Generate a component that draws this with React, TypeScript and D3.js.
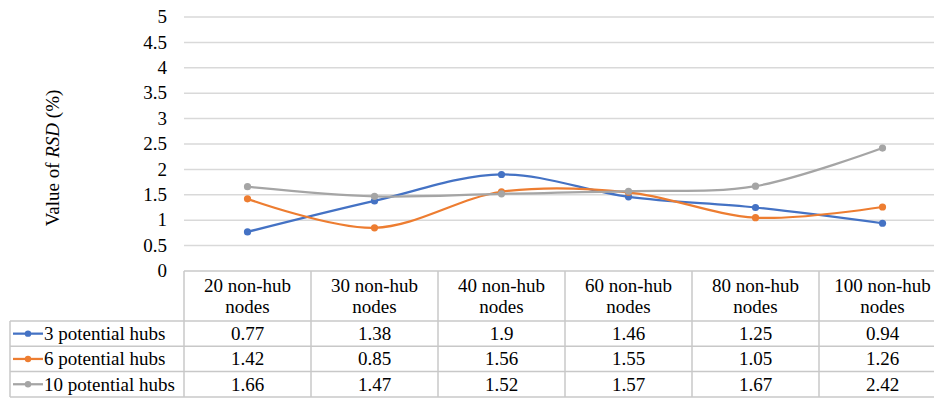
import React, { useEffect, useRef } from "react";
import * as d3 from "d3";

const categories = ["20 non-hub nodes", "30 non-hub nodes", "40 non-hub nodes", "60 non-hub nodes", "80 non-hub nodes", "100 non-hub nodes"];
const seriesNames = ["3 potential hubs", "6 potential hubs", "10 potential hubs"];
const hubs3 = [0.77, 1.38, 1.9, 1.46, 1.25, 0.94];
const hubs6 = [1.42, 0.85, 1.56, 1.55, 1.05, 1.26];
const hubs10 = [1.66, 1.47, 1.52, 1.57, 1.67, 2.42];
const yTicks = [0, 0.5, 1, 1.5, 2, 2.5, 3, 3.5, 4, 4.5, 5];
const colors = ["#4472C4", "#ED7D31", "#A5A5A5"];

export default function App() {
  const ref = useRef<SVGSVGElement | null>(null);
  useEffect(() => {
    const W = 934, H = 399;
    const plotLeft = 184, catW = 127;
    const plotRight = plotLeft + catW * categories.length;
    const x = d3.scaleBand<string>().domain(categories).range([plotLeft, plotRight]);
    const y = d3.scaleLinear().domain([0, 5]).range([271, 17]);
    const series = [hubs3, hubs6, hubs10];
    const cx = (i: number) => (x(categories[i]) as number) + x.bandwidth() / 2;
    const line = d3
      .line<number>()
      .x((_, i) => cx(i))
      .y((d) => y(d))
      .curve(d3.curveCatmullRom.alpha(0));
    const fs = 19;
    const tableTop = 271, headerBottom = 321, rowH = 25.3;
    const legendLeft = 10;
    const grid = "#D9D9D9";
    const border = "#C8C8C8";

    const svg = d3.select(ref.current!);
    svg.selectAll("*").remove();
    svg.attr("width", W).attr("height", H);

    const txt = (g: any, s: string, tx: number, ty: number, anchor = "start") =>
      g.append("text")
        .attr("x", tx)
        .attr("y", ty)
        .attr("dy", "0.33em")
        .attr("text-anchor", anchor)
        .attr("font-family", "Liberation Serif")
        .attr("font-size", fs)
        .attr("fill", "#000")
        .text(s);

    yTicks.forEach((t) => {
      if (t > 0)
        svg.append("line").attr("x1", plotLeft).attr("x2", plotRight).attr("y1", y(t)).attr("y2", y(t)).attr("stroke", grid).attr("stroke-width", 1.5);
      txt(svg, String(t), 167, y(t), "end");
    });

    const title = svg.append("text")
      .attr("transform", "translate(59,158) rotate(-90)")
      .attr("text-anchor", "middle")
      .attr("font-family", "Liberation Serif")
      .attr("font-size", fs)
      .attr("fill", "#000");
    title.append("tspan").text("Value of ");
    title.append("tspan").attr("font-style", "italic").text("RSD");
    title.append("tspan").text(" (%)");

    const tb = svg.append("g").attr("stroke", border).attr("stroke-width", 1.5).attr("fill", "none");
    tb.append("line").attr("x1", plotLeft).attr("x2", plotRight).attr("y1", tableTop).attr("y2", tableTop);
    [0, 1, 2, 3].forEach((r) => {
      tb.append("line").attr("x1", legendLeft).attr("x2", plotRight).attr("y1", headerBottom + r * rowH).attr("y2", headerBottom + r * rowH);
    });
    d3.range(categories.length + 1).forEach((i) => {
      tb.append("line").attr("x1", plotLeft + i * catW).attr("x2", plotLeft + i * catW).attr("y1", tableTop).attr("y2", headerBottom + 3 * rowH);
    });
    tb.append("line").attr("x1", legendLeft).attr("x2", legendLeft).attr("y1", headerBottom).attr("y2", headerBottom + 3 * rowH);

    categories.forEach((c, i) => {
      const parts = c.split(" ");
      const t = svg.append("text")
        .attr("text-anchor", "middle")
        .attr("font-family", "Liberation Serif")
        .attr("font-size", fs)
        .attr("fill", "#000");
      t.append("tspan").attr("x", cx(i)).attr("y", 292).text(parts[0] + " " + parts[1]);
      t.append("tspan").attr("x", cx(i)).attr("y", 313).text(parts[2]);
    });

    series.forEach((s, si) => {
      const rowMid = headerBottom + si * rowH + rowH / 2;
      svg.append("line").attr("x1", 13).attr("x2", 43).attr("y1", rowMid).attr("y2", rowMid).attr("stroke", colors[si]).attr("stroke-width", 2.25);
      svg.append("circle").attr("cx", 28).attr("cy", rowMid).attr("r", 3.2).attr("fill", colors[si]);
      txt(svg, seriesNames[si], 44, rowMid);
      s.forEach((v, i) => txt(svg, String(v), cx(i), rowMid, "middle"));
    });

    series.forEach((s, si) => {
      svg.append("path").attr("d", line(s) || "").attr("fill", "none").attr("stroke", colors[si]).attr("stroke-width", 2.25).attr("stroke-linejoin", "round");
      s.forEach((v, i) => svg.append("circle").attr("cx", cx(i)).attr("cy", y(v)).attr("r", 3.6).attr("fill", colors[si]));
    });
  }, []);
  return <svg ref={ref} width={934} height={399} style={{ position: "absolute", left: 0, top: 0, background: "#fff" }} />;
}
